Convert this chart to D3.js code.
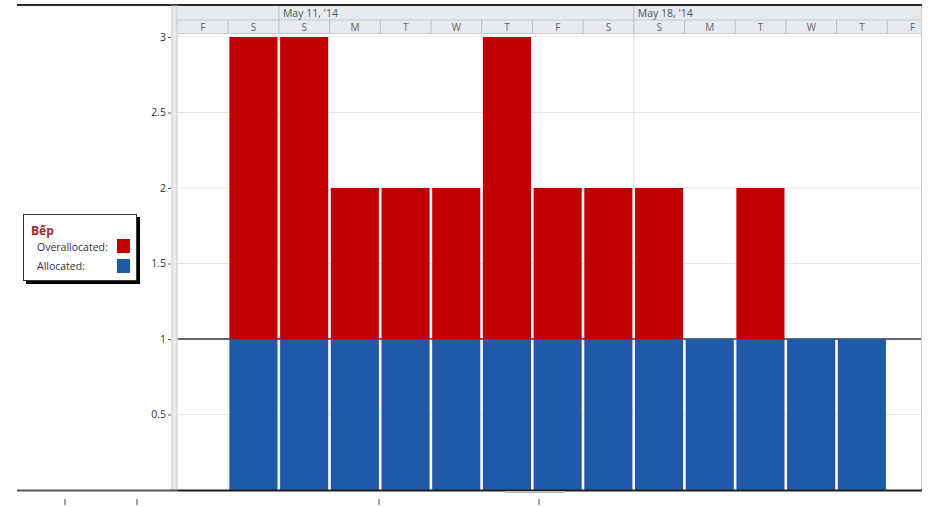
<!DOCTYPE html>
<html lang="vi">
<head>
  <meta charset="utf-8">
  <script src="https://d3js.org/d3.v7.min.js"></script>
  <style>
    body { margin: 0; background: #fff; }
    text { font-family: "Open Sans", "DejaVu Sans", sans-serif; }
  </style>
</head>
<body>
<script>
  // resource usage graph for "Bếp", May 9 - May 23 2014

  // data
  const days = ["F", "S", "S", "M", "T", "W", "T", "F", "S", "S", "M", "T", "W", "T", "F"];
  const allocated = [0, 1, 1, 1, 1, 1, 1, 1, 1, 1, 1, 1, 1, 1, 0];
  const overallocated = [0, 2, 2, 1, 1, 1, 2, 1, 1, 1, 0, 1, 0, 0, 0];
  const weekLabels = ["May 11, '14", "May 18, '14"];
  const weekStarts = [2, 9];           // index of the Sunday in days
  const yTicks = [0.5, 1, 1.5, 2, 2.5, 3];
  const maxUnits = 1;

  // sizes
  const W = 931, H = 507;
  const plotLeft = 177.5, plotRight = 922;
  const step = 50.7;
  const plotTop = 37, plotBottom = 490;

  const svg = d3.select("body").append("svg")
    .attr("width", W)
    .attr("height", H);

  svg.append("clipPath").attr("id", "plot")
    .append("rect")
    .attr("x", plotLeft).attr("y", 0)
    .attr("width", plotRight - plotLeft).attr("height", H);

  // scales
  const x = d3.scaleBand()
    .domain(d3.range(days.length))
    .range([plotLeft, plotLeft + step * days.length])
    .padding(0);

  const y = d3.scaleLinear()
    .domain([0, 3])
    .range([plotBottom, plotTop]);

  // top border line
  svg.append("line")
    .attr("x1", 17).attr("x2", plotRight)
    .attr("y1", 5).attr("y2", 5)
    .attr("stroke", "#2a2a2a").attr("stroke-width", 2);

  // timescale header
  const head = svg.append("g").attr("clip-path", "url(#plot)");
  head.append("rect")
    .attr("x", plotLeft).attr("y", 6)
    .attr("width", plotRight - plotLeft).attr("height", 27)
    .attr("fill", "#e7eaee");
  head.append("line")
    .attr("x1", plotLeft).attr("x2", plotRight)
    .attr("y1", 20).attr("y2", 20)
    .attr("stroke", "#c4c9cf");
  head.append("line")
    .attr("x1", plotLeft).attr("x2", plotRight)
    .attr("y1", 33.5).attr("y2", 33.5)
    .attr("stroke", "#c4c9cf");

  head.selectAll(".weekdiv")
    .data(weekStarts)
    .enter().append("line")
    .attr("x1", d => x(d)).attr("x2", d => x(d))
    .attr("y1", 6).attr("y2", 20)
    .attr("stroke", "#b9bec4");

  head.selectAll(".weeklabel")
    .data(weekLabels)
    .enter().append("text")
    .attr("x", (d, i) => x(weekStarts[i]) + 4)
    .attr("y", 17)
    .attr("font-size", 10.5)
    .attr("fill", "#555")
    .text(d => d);

  head.selectAll(".daydiv")
    .data(days)
    .enter().append("line")
    .attr("x1", (d, i) => x(i)).attr("x2", (d, i) => x(i))
    .attr("y1", 20).attr("y2", 33)
    .attr("stroke", "#b9bec4");

  head.selectAll(".daylabel")
    .data(days)
    .enter().append("text")
    .attr("x", (d, i) => x(i) + x.bandwidth() / 2)
    .attr("y", 30.5)
    .attr("text-anchor", "middle")
    .attr("font-size", 10)
    .attr("fill", "#666")
    .text(d => d);

  // plot area
  const plot = svg.append("g").attr("clip-path", "url(#plot)");

  // gridlines
  plot.selectAll(".grid")
    .data(yTicks.filter(d => d !== maxUnits))
    .enter().append("line")
    .attr("x1", plotLeft).attr("x2", plotRight)
    .attr("y1", d => y(d)).attr("y2", d => y(d))
    .attr("stroke", "#e6e6e6");

  plot.selectAll(".weekgrid")
    .data(weekStarts)
    .enter().append("line")
    .attr("x1", d => x(d)).attr("x2", d => x(d))
    .attr("y1", 34).attr("y2", plotBottom)
    .attr("stroke", "#e2e2e2");

  // max units line
  plot.append("line")
    .attr("x1", plotLeft).attr("x2", plotRight)
    .attr("y1", y(maxUnits)).attr("y2", y(maxUnits))
    .attr("stroke", "#333").attr("stroke-width", 1.6);

  // allocated bars
  plot.selectAll(".alloc")
    .data(allocated)
    .enter().append("rect")
    .attr("x", (d, i) => x(i) + 1.2)
    .attr("width", x.bandwidth() - 2.6)
    .attr("y", d => y(d))
    .attr("height", d => y(0) - y(d))
    .attr("fill", "#2059a8");

  // overallocated bars, stacked on top
  plot.selectAll(".over")
    .data(overallocated)
    .enter().append("rect")
    .attr("x", (d, i) => x(i) + 1.2)
    .attr("width", x.bandwidth() - 2.6)
    .attr("y", (d, i) => y(allocated[i] + d))
    .attr("height", (d, i) => y(allocated[i]) - y(allocated[i] + d))
    .attr("fill", "#c00000");

  // right edge of the plot
  svg.append("line")
    .attr("x1", plotRight - 0.5).attr("x2", plotRight - 0.5)
    .attr("y1", 6).attr("y2", plotBottom)
    .attr("stroke", "#d0d0d0");

  // left gray strip by the axis
  svg.append("rect")
    .attr("x", 172).attr("y", 6)
    .attr("width", 5).attr("height", plotBottom - 6)
    .attr("fill", "#ebebeb")
    .attr("stroke", "#c9c9c9");

  // y axis
  const yAxis = svg.append("g")
    .attr("transform", "translate(171,0)")
    .call(d3.axisLeft(y).tickValues(yTicks).tickSize(3).tickPadding(2).tickFormat(d => d));
  yAxis.select(".domain").remove();
  yAxis.selectAll("text")
    .attr("font-size", 10.5)
    .attr("font-family", "Open Sans, sans-serif")
    .attr("fill", "#333");
  yAxis.selectAll("line").attr("stroke", "#555");

  // bottom line
  svg.append("line")
    .attr("x1", 17).attr("x2", 178)
    .attr("y1", plotBottom + 0.5).attr("y2", plotBottom + 0.5)
    .attr("stroke", "#555").attr("stroke-width", 2);
  svg.append("line")
    .attr("x1", 178).attr("x2", plotRight)
    .attr("y1", plotBottom + 0.5).attr("y2", plotBottom + 0.5)
    .attr("stroke", "#1e1e1e").attr("stroke-width", 2);
  svg.append("rect")
    .attr("x", 505).attr("y", 491)
    .attr("width", 60).attr("height", 2)
    .attr("fill", "#bbb");

  // small marks of the next row below the picture
  svg.selectAll(".stub")
    .data([65, 137, 379, 539])
    .enter().append("line")
    .attr("x1", d => d).attr("x2", d => d)
    .attr("y1", 499).attr("y2", 505)
    .attr("stroke", "#444");

  // legend
  const lg = svg.append("g");
  lg.append("rect")
    .attr("x", 26).attr("y", 217)
    .attr("width", 114).attr("height", 67)
    .attr("fill", "#000");
  lg.append("rect")
    .attr("x", 23.5).attr("y", 214.5)
    .attr("width", 113).attr("height", 66)
    .attr("fill", "#fff")
    .attr("stroke", "#333");
  lg.append("text")
    .attr("x", 31).attr("y", 235)
    .attr("font-size", 12)
    .attr("font-weight", "bold")
    .attr("fill", "#a3282a")
    .text("Bếp");

  const legendItems = ["Overallocated:", "Allocated:"];
  const legendColors = ["#c00000", "#2059a8"];
  lg.selectAll(".lt")
    .data(legendItems)
    .enter().append("text")
    .attr("x", 37)
    .attr("y", (d, i) => 250.5 + i * 19.5)
    .attr("font-size", 10.5)
    .attr("fill", "#333")
    .text(d => d);
  lg.selectAll(".ls")
    .data(legendColors)
    .enter().append("rect")
    .attr("x", 117)
    .attr("y", (d, i) => 239 + i * 20)
    .attr("width", 13).attr("height", 14)
    .attr("fill", d => d);
</script>
</body>
</html>
